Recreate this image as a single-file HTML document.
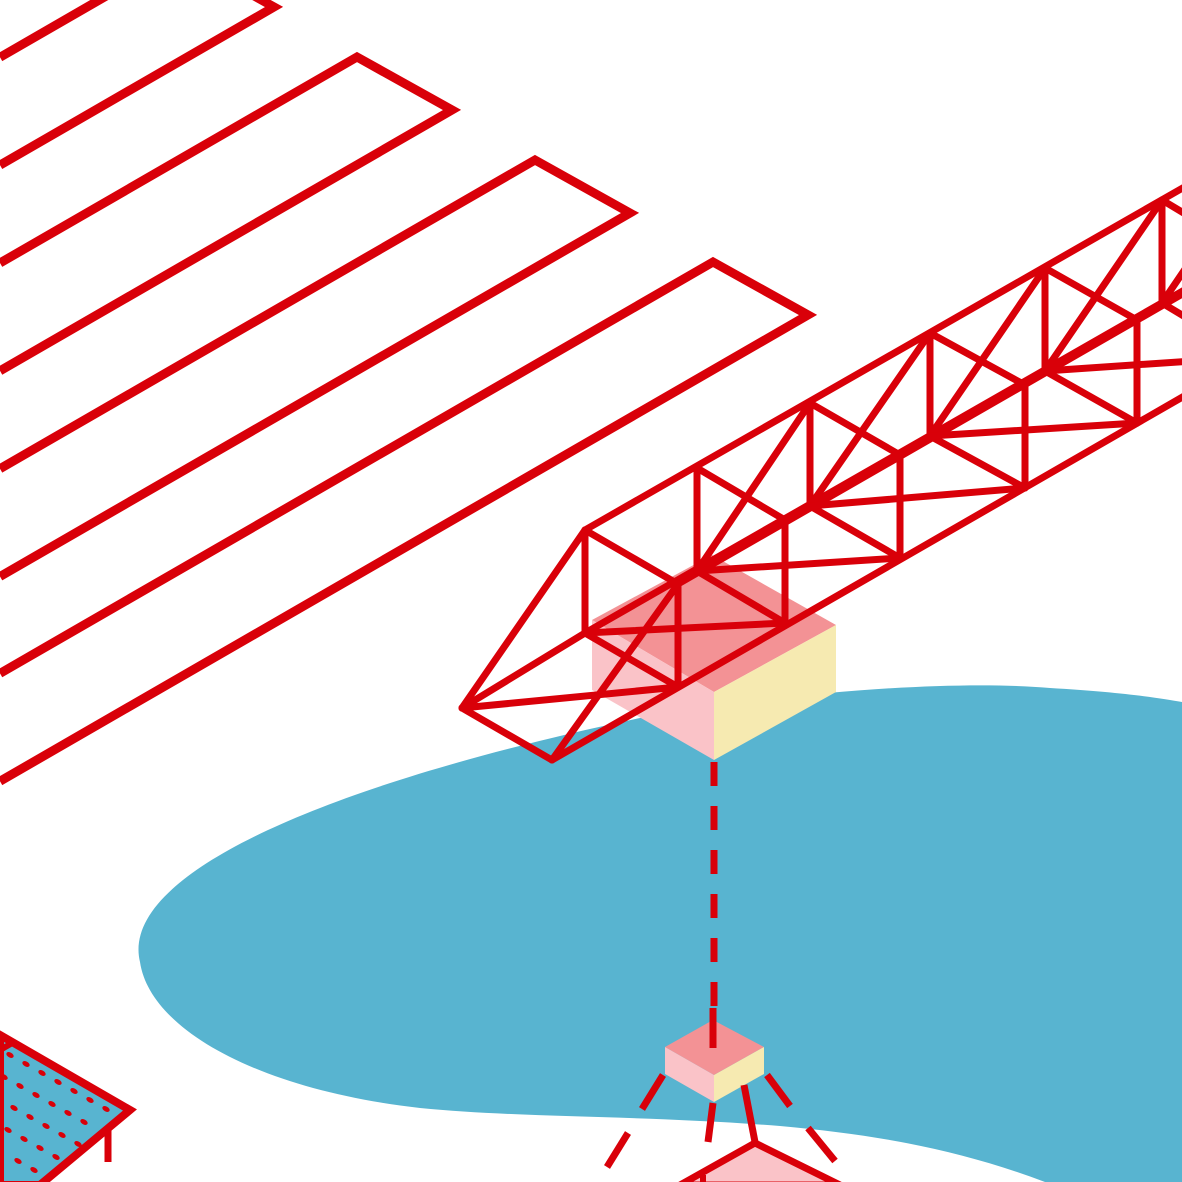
<!DOCTYPE html>
<html><head><meta charset="utf-8"><style>html,body{margin:0;padding:0;background:#fff}svg{display:block}</style></head>
<body>
<svg id="s" width="1182" height="1182" viewBox="0 0 1182 1182">
<rect width="1182" height="1182" fill="#fff"/>
<path fill="#58b4d0" d="M140,962 C120,880 300,790 640,718 C800,690 960,680 1050,688 C1120,692 1160,698 1182,702 L1182,1182 L1045,1182 C960,1150 880,1135 780,1126 C640,1115 520,1118 420,1108 C260,1090 150,1030 140,962 Z"/>
<g id="stripes" fill="none" stroke="#d90009" stroke-width="9" stroke-linejoin="miter"></g>
<g>
<polygon points="592,620 712,555 836,625 714,692" fill="#f39295"/>
<polygon points="592,620 714,692 714,760 592,690" fill="#fac3c8"/>
<polygon points="714,692 836,625 836,692 714,760" fill="#f6eab1"/>
</g>
<g id="truss" stroke="#d90009" stroke-width="7" stroke-linecap="round" fill="none"></g>
<line x1="714" y1="762" x2="714" y2="1048" stroke="#d90009" stroke-width="7" stroke-dasharray="24 20"/>
<g>
<polygon points="665,1047 713,1020 764,1047 714,1075" fill="#f39295"/>
<polygon points="665,1047 714,1075 714,1102 665,1074" fill="#fac3c8"/>
<polygon points="714,1075 764,1047 764,1074 714,1102" fill="#f6eab1"/>
<line x1="713" y1="1008" x2="713" y2="1048" stroke="#d90009" stroke-width="7"/>
</g>
<g stroke="#d90009" stroke-width="7" fill="none">
<line x1="663" y1="1075" x2="642" y2="1109"/>
<line x1="628" y1="1133" x2="607" y2="1167"/>
<line x1="713" y1="1103" x2="708" y2="1142"/>
<line x1="767" y1="1075" x2="790" y2="1106"/>
<line x1="808" y1="1128" x2="835" y2="1161"/>
<line x1="744" y1="1085" x2="755" y2="1142"/>
</g>
<polygon points="680,1185 755,1143 840,1185" fill="#fac3c8" stroke="#d90009" stroke-width="7"/>
<line x1="703" y1="1175" x2="703" y2="1185" stroke="#d90009" stroke-width="6"/>
<g>
<polygon points="0,1035 130,1110 40,1185 0,1185" fill="#58b4d0" stroke="#d90009" stroke-width="8"/>
<line x1="0" y1="1050" x2="14" y2="1042" stroke="#d90009" stroke-width="6"/>
<line x1="108" y1="1130" x2="108" y2="1162" stroke="#d90009" stroke-width="7"/>
<g id="dots" fill="#d90009"></g>
</g>
</svg>
<script>
const NS='http://www.w3.org/2000/svg';
function mk(tag,attrs,parent){const e=document.createElementNS(NS,tag);for(const k in attrs)e.setAttribute(k,attrs[k]);parent.appendChild(e);return e;}
const stripeApexX=[179,357,535,713];
const stripeApexY=[-46,57,160,262];
const sg=document.getElementById('stripes');
const k=0.577;
stripeApexX.forEach((ax,i)=>{const ay=stripeApexY[i];const bx=ax+95,by=ay+53;
 const p=mk('polyline',{points:`0,${ay+ax*k} ${ax},${ay} ${bx},${by} 0,${by+bx*k}`},sg);
 
 });
const tg=document.getElementById('truss');
const BX=[585,697,810,930,1045,1162,1277], BY=[530,468,403,333,268,200,134];
const FX=[678,785,900,1025,1137,1252], FY=[584,520,455,385,320,254];
const H=103;
function L(a,b,c,d){const l=mk('line',{x1:a,y1:b,x2:c,y2:d},tg);}
L(BX[0],BY[0],BX[6],BY[6]);
L(FX[0],FY[0],FX[5],FY[5]);
L(BX[0],BY[0]+H,BX[6],BY[6]+H);
L(552,760,FX[5],FY[5]+H);
L(FX[0],FY[0],552,760);
L(BX[0],BY[0],462,708);L(462,708,552,760);L(462,708,BX[0],BY[0]+H);L(462,708,FX[0],FY[0]+H);
for(let i=0;i<6;i++){
 L(BX[i],BY[i],BX[i],BY[i]+H);
 L(FX[i],FY[i],FX[i],FY[i]+H);
 L(BX[i],BY[i],FX[i],FY[i]);
 L(BX[i],BY[i]+H,FX[i],FY[i]+H);
 if(i>0)L(BX[i+1],BY[i+1],BX[i],BY[i]+H);
 if(i<5)L(BX[i],BY[i]+H,FX[i+1],FY[i+1]+H);
}
const dg=document.getElementById('dots');
for(let r=-3;r<8;r++)for(let c=0;c<8;c++){
 const x=10+c*16+r*(-6)-0, y=1055+c*9+r*22;
 if(x<4||x>118||y>1180)continue;
 if(y<1045+x*0.577-0 ) continue;
 if(y>1110+(130-x)*0.83-8)continue;
 mk('ellipse',{cx:x,cy:y,rx:4,ry:2.5,transform:`rotate(30 ${x} ${y})`},dg);
}
</script>
</body></html>
